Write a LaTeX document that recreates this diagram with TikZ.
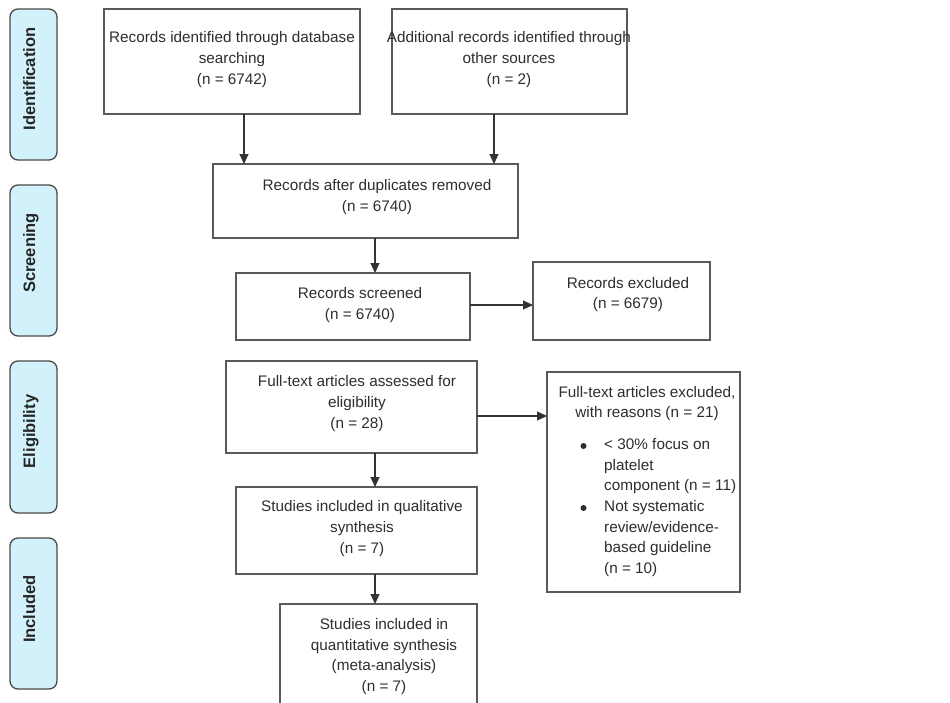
\documentclass[tikz,border=0pt]{standalone}
\usepackage{fontspec}
\setmainfont{Liberation Sans}
\usetikzlibrary{arrows.meta}

\definecolor{boxline}{HTML}{5A5A5A}
\definecolor{txtcol}{HTML}{2E2E2E}
\definecolor{arrcol}{HTML}{333333}
\definecolor{stageline}{HTML}{4A4A4A}
\definecolor{stagefill}{HTML}{D2F1FB}

\newcommand{\boxfont}{\fontsize{15.3}{20.7}\selectfont}
\newcommand{\stagefont}{\fontsize{16.5}{20}\selectfont\bfseries}

\tikzset{
  box/.style={draw=boxline, line width=1.3pt, fill=white, inner sep=0pt, outer sep=0pt},
  txt/.style={font=\boxfont, text=txtcol, align=center, inner sep=0pt},
  ltxt/.style={font=\boxfont, text=txtcol, align=left, inner sep=0pt},
  dot/.style={circle, fill=txtcol, inner sep=0pt, minimum size=6pt},
  stage/.style={draw=stageline, fill=stagefill, rounded corners=8pt, line width=1.3pt,
                inner sep=0pt, minimum width=47pt},
  stagetxt/.style={font=\stagefont, text=black!85, rotate=90, anchor=base, inner sep=0pt},
  arr/.style={draw=arrcol, line width=1.1pt, -{Triangle[length=10pt,width=9pt]}},
}

\begin{document}
\begin{tikzpicture}[x=1pt, y=-1pt]
  \clip (0,0) rectangle (950,702);
  \fill[white] (0,0) rectangle (950,702);

  % stage labels on the left
  \node[stage, minimum height=151pt] (s1) at (33.5,84.5) {};
  \node[stagetxt] (s1t) at (35,79) {Identification};
  \node[stage, minimum height=151pt] (s2) at (33.5,260.5) {};
  \node[stagetxt] (s2t) at (35,253) {Screening};
  \node[stage, minimum height=152pt] (s3) at (33.5,437) {};
  \node[stagetxt] (s3t) at (35,431.5) {Eligibility};
  \node[stage, minimum height=151pt] (s4) at (33.5,613.5) {};
  \node[stagetxt] (s4t) at (35,609) {Included};

  % flow boxes
  \node[box, minimum width=256pt, minimum height=105pt] (b1) at (232,61.5) {};
  \node[txt] (t1) at (232,59.5) {Records identified through database\\searching\\(n = 6742)};

  \node[box, minimum width=235pt, minimum height=105pt] (b2) at (509.5,61.5) {};
  \node[txt] (t2) at (509,59.5) {Additional records identified through\\other sources\\(n = 2)};

  \node[box, minimum width=305pt, minimum height=74pt] (b3) at (365.5,201) {};
  \node[txt] (t3) at (377,197) {Records after duplicates removed\\(n = 6740)};

  \node[box, minimum width=234pt, minimum height=67pt] (b4) at (353,306.5) {};
  \node[txt] (t4) at (360,305) {Records screened\\(n = 6740)};

  \node[box, minimum width=177pt, minimum height=78pt] (b5) at (621.5,301) {};
  \node[txt] (t5) at (628,294.5) {Records excluded\\(n = 6679)};

  \node[box, minimum width=251pt, minimum height=92pt] (b6) at (351.5,407) {};
  \node[txt] (t6) at (357,403.5) {Full-text articles assessed for\\eligibility\\(n = 28)};

  \node[box, minimum width=241pt, minimum height=87pt] (b7) at (356.5,530.5) {};
  \node[txt] (t7) at (362,528.5) {Studies included in qualitative\\synthesis\\(n = 7)};

  \node[box, minimum width=197pt, minimum height=116pt] (b8) at (378.5,662) {};
  \node[txt] (t8) at (384,656.5) {Studies included in\\quantitative synthesis\\(meta-analysis)\\(n = 7)};

  \node[box, minimum width=193pt, minimum height=220pt] (b9) at (643.5,482) {};
  \node[txt] (t9) at (647,403.5) {Full-text articles excluded,\\with reasons (n = 21)};
  \node[dot] (bu1) at (583.5,446) {};
  \node[dot] (bu2) at (583.5,508) {};
  \node[ltxt, anchor=west] (t9l) at (604,507.5) {< 30\% focus on\\platelet\\component (n = 11)\\Not systematic\\review/evidence-\\based guideline\\(n = 10)};

  % connector guide positions
  \coordinate (xa) at (244,0);
  \coordinate (xb) at (494,0);
  \coordinate (xc) at (375,0);
  \coordinate (ya) at (0,305);
  \coordinate (yb) at (0,416);

  % connectors
  \draw[arr] (b1.south -| xa) -- (b3.north -| xa);
  \draw[arr] (b2.south -| xb) -- (b3.north -| xb);
  \draw[arr] (b3.south -| xc) -- (b4.north -| xc);
  \draw[arr] (b4.east |- ya) -- (b5.west |- ya);
  \draw[arr] (b6.east |- yb) -- (b9.west |- yb);
  \draw[arr] (b6.south -| xc) -- (b7.north -| xc);
  \draw[arr] (b7.south -| xc) -- (b8.north -| xc);
\end{tikzpicture}
\end{document}
